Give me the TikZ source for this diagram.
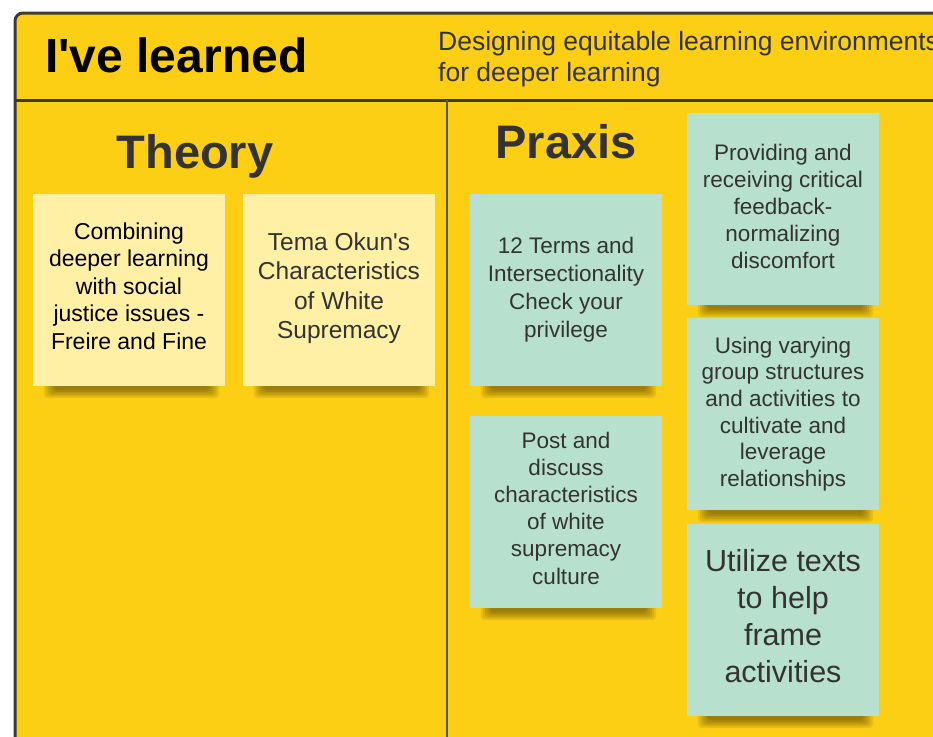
\documentclass[tikz,border=0pt]{standalone}
\usepackage{fontspec}
\setmainfont{Liberation Sans}[Ligatures=TeXOff]
\usetikzlibrary{backgrounds}
\definecolor{boardyellow}{RGB}{252,206,20}
\definecolor{stickyyellow}{RGB}{255,240,165}
\definecolor{stickyteal}{RGB}{184,224,207}
\definecolor{inkgray}{RGB}{51,51,51}
\definecolor{framegray}{RGB}{58,58,58}
\begin{document}
\begin{tikzpicture}[x=1pt, y=-1pt,
    sticky/.style={minimum width=192pt, minimum height=192pt, inner sep=0pt, align=center, text=inkgray},
    theory note/.style={sticky, fill=stickyyellow},
    praxis note/.style={sticky, fill=stickyteal},
    note shadow/.style={black, opacity=0.075, rounded corners=4pt},
    heading/.style={font=\fontsize{47}{56}\selectfont\bfseries, text=inkgray, inner sep=0pt, anchor=base}]

    \useasboundingbox (0,0) rectangle (933,736);
    \clip (0,0) rectangle (933,736);

    \node (learned) [anchor=base west, inner sep=0pt, font=\fontsize{48}{56}\selectfont\bfseries] at (45,72) {I've learned};
    \node (topic) [anchor=north west, inner sep=0pt, align=left, text=inkgray, font=\fontsize{26.5}{31.5}\selectfont] at (438,31)
        {Designing equitable learning environments\\for deeper learning};

    \node (theory) [heading] at (195,168) {Theory};
    \node (praxis) [heading] at (566,158) {Praxis};

    \node (freire) [theory note, text=black, text depth=8pt, font=\fontsize{23}{27.5}\selectfont] at (129,290)
        {Combining\\deeper learning\\with social\\justice issues -\\Freire and Fine};
    \node (okun) [theory note, text depth=9pt, font=\fontsize{24.5}{29.5}\selectfont] at (339,290)
        {Tema Okun's\\Characteristics\\of White\\Supremacy};

    \node (terms) [praxis note, font=\fontsize{22.5}{28}\selectfont] at (566,290)
        {12 Terms and\\Intersectionality\\Check your\\privilege};
    \node (postdiscuss) [praxis note, text depth=8pt, font=\fontsize{22.5}{27.2}\selectfont] at (566,512)
        {Post and\\discuss\\characteristics\\of white\\supremacy\\culture};
    \node (feedback) [praxis note, text depth=6pt, font=\fontsize{22.5}{27}\selectfont] at (783,209)
        {Providing and\\receiving critical\\feedback-\\normalizing\\discomfort};
    \node (grouping) [praxis note, font=\fontsize{22.5}{26.6}\selectfont] at (783,414)
        {Using varying\\group structures\\and activities to\\cultivate and\\leverage\\relationships};
    \node (texts) [praxis note, text depth=8pt, font=\fontsize{30.5}{37}\selectfont] at (783,620)
        {Utilize texts\\to help\\frame\\activities};

    \begin{scope}[on background layer]
        \draw[framegray, line width=3pt, rounded corners=8pt, fill=boardyellow] (15,13) rectangle (960,760);
        \draw[framegray, line width=3pt] (15,100) -- (960,100);
        \draw[framegray!85, line width=2pt] (447,100) -- (447,760);
        \foreach \n in {freire,okun,terms,postdiscuss,feedback,grouping,texts}
            \foreach \i in {0,...,5}
                \fill[note shadow] ([shift={(11+2*\i,-4)}]\n.south west) rectangle ([shift={(-6-2*\i,12-1.6*\i)}]\n.south east);
    \end{scope}
\end{tikzpicture}
\end{document}
